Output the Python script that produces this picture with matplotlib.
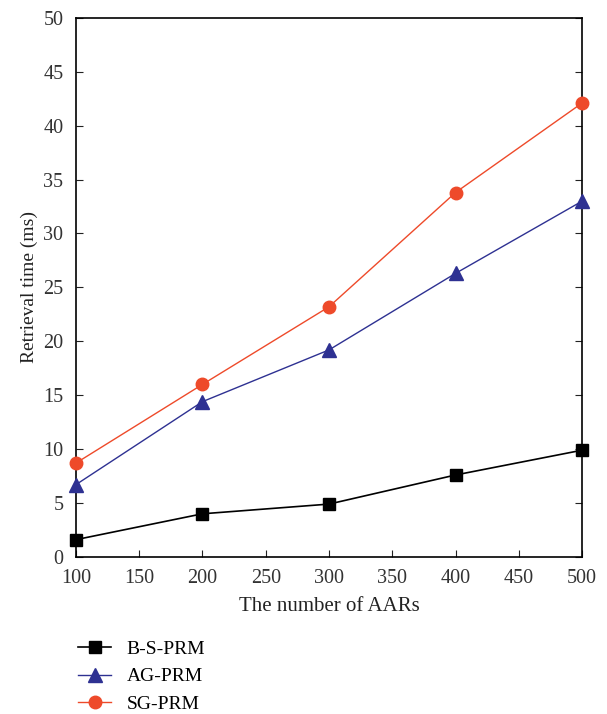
import matplotlib.pyplot as plt

plt.rcParams['font.family'] = ['Liberation Serif', 'DejaVu Serif']

aars = [100, 200, 300, 400, 500]
bs_prm = [1.6, 4.0, 4.9, 7.6, 9.9]
ag_prm = [6.7, 14.4, 19.2, 26.3, 33.0]
sg_prm = [8.7, 16.0, 23.2, 33.8, 42.1]

fig = plt.figure(figsize=(6.07, 7.14), dpi=100)
ax = fig.add_axes([0.125, 0.22, 0.834, 0.755])

l1, = ax.plot(aars, bs_prm, color='black', marker='s', markersize=8, linewidth=1.2, clip_on=False, zorder=3)
l2, = ax.plot(aars, ag_prm, color='#2e3192', marker='^', markersize=10, linewidth=1.0, clip_on=False, zorder=3)
l3, = ax.plot(aars, sg_prm, color='#ee4a2a', marker='o', markersize=9, linewidth=1.0, clip_on=False, zorder=3)

ax.set_xlim(100, 500)
ax.set_ylim(0, 50)
ax.set_xticks(range(100, 501, 50))
ax.set_yticks(range(0, 51, 5))
ax.tick_params(direction='in', labelsize=14.5, length=5, right=True, top=False,
               colors='#222222', labelcolor='#333333')
ax.tick_params(axis='x', pad=9)
ax.tick_params(axis='y', pad=9)
ax.set_xlabel('The number of AARs', fontsize=15, color='#222222', labelpad=6)
ax.set_ylabel('Retrieval time (ms)', fontsize=14, color='#222222', labelpad=4)
for s in ax.spines.values():
    s.set_linewidth(1.2)

fig.legend(handles=[l1, l2, l3], labels=['B-S-PRM', 'AG-PRM', 'SG-PRM'],
           loc='upper left', bbox_to_anchor=(0.1, 0.128), frameon=False,
           fontsize=14, handlelength=1.7, handletextpad=0.8, labelspacing=0.52)

plt.savefig('out.png')
